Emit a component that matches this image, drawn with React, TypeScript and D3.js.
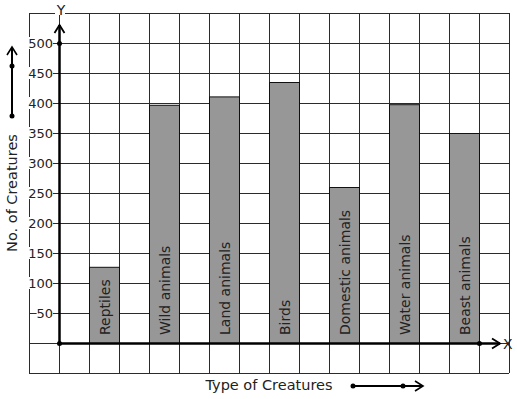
import { scaleBand, scaleLinear, range } from "d3"

const categories = ["Reptiles", "Wild animals", "Land animals", "Birds", "Domestic animals", "Water animals", "Beast animals"]
const values = [127, 397, 411, 435, 260, 398, 350]
const yTicks = [50, 100, 150, 200, 250, 300, 350, 400, 450, 500]

const W = 517
const H = 399
const FONT = "DejaVu Sans, Verdana, sans-serif"

export default function App() {
  const cell = 30
  const left = 29
  const cols = 16
  // y from -50 to 550, one cell per 50
  const y = scaleLinear().domain([-50, 550]).range([373, 13])
  const gx = scaleLinear().domain([0, cols]).range([left, left + cols * cell])
  const axisX = gx(1)
  const x = scaleBand()
    .domain(categories)
    .range([axisX, gx(cols)])
    .paddingInner(0.5)
    .paddingOuter(0.5)
  const hLines = range(-50, 551, 50)
  const vLines = range(0, cols + 1)
  const y0 = y(0)
  const xEnd = gx(cols) - 9

  const chevron = (tx, ty, dir) => {
    // open arrow head, dir: 'up' | 'right'
    if (dir === "up") return `M${tx - 5},${ty + 8} L${tx},${ty} L${tx + 5},${ty + 8}`
    return `M${tx - 8},${ty - 5} L${tx},${ty} L${tx - 8},${ty + 5}`
  }

  return (
    <div style={{ position: "absolute", left: 0, top: 0 }}>
      <svg width={W} height={H} style={{ display: "block", background: "#fff" }}>
        <rect x={0} y={0} width={W} height={H} fill="#fff" />
        {/* grid */}
        <g stroke="#2b2b2b" strokeWidth={1}>
          {hLines.map((v) => (
            <line key={"h" + v} x1={gx(0)} x2={gx(cols)} y1={y(v) + 0.5} y2={y(v) + 0.5} />
          ))}
          {vLines.map((i) => (
            <line key={"v" + i} x1={gx(i) + 0.5} x2={gx(i) + 0.5} y1={y(550)} y2={y(-50)} />
          ))}
        </g>

        {/* bars */}
        {categories.map((c, i) => (
          <g key={c}>
            <rect
              x={x(c) + 0.5}
              y={y(values[i]) + 0.5}
              width={x.bandwidth()}
              height={y0 - y(values[i])}
              fill="#979797"
              stroke="#111"
              strokeWidth={1}
            />
            <text
              transform={`translate(${x(c) + x.bandwidth() / 2 + 1}, ${y0 - 8}) rotate(-90)`}
              fontFamily={FONT}
              fontSize={14}
              fill="#222"
              dominantBaseline="central"
            >
              {c}
            </text>
          </g>
        ))}

        {/* y tick labels with white backing */}
        {yTicks.map((t) => {
          const w = String(t).length * 8.2
          return (
            <g key={"t" + t}>
              <rect x={axisX - 6 - w} y={y(t) - 6} width={w} height={12} fill="#fff" />
              <text
                x={axisX - 6}
                y={y(t) + 0.5}
                textAnchor="end"
                dominantBaseline="central"
                fontFamily={FONT}
                fontSize={13}
                fill="#222"
              >
                {t}
              </text>
            </g>
          )
        })}

        {/* axes */}
        <line x1={axisX + 0.5} x2={axisX + 0.5} y1={y0} y2={25} stroke="#000" strokeWidth={2.5} />
        <line x1={axisX} x2={xEnd} y1={y0 + 0.5} y2={y0 + 0.5} stroke="#000" strokeWidth={2.5} />
        <path d={chevron(axisX + 0.5, 25, "up")} fill="none" stroke="#000" strokeWidth={1.8} />
        <path d={chevron(xEnd, y0 + 0.5, "right")} fill="none" stroke="#000" strokeWidth={1.8} />
        <circle cx={axisX + 0.5} cy={y(500) + 0.5} r={2.5} fill="#000" />
        <circle cx={axisX + 0.5} cy={y0 + 0.5} r={2.5} fill="#000" />
        <circle cx={gx(cols - 1) + 0.5} cy={y0 + 0.5} r={2.5} fill="#000" />

        <rect x={axisX - 4} y={3} width={10} height={12} fill="#fff" />
        <text x={axisX + 2} y={10} textAnchor="middle" dominantBaseline="central" fontFamily={FONT} fontSize={14} fill="#222">
          Y
        </text>
        <text x={xEnd + 3} y={y0 + 0.5} dominantBaseline="central" fontFamily={FONT} fontSize={14} fill="#222">
          X
        </text>

        {/* axis titles */}
        <text
          transform={`translate(12, ${193}) rotate(-90)`}
          textAnchor="middle"
          dominantBaseline="central"
          fontFamily={FONT}
          fontSize={14.5}
          fill="#222"
        >
          No. of Creatures
        </text>
        <text x={269} y={385} textAnchor="middle" dominantBaseline="central" fontFamily={FONT} fontSize={14.5} fill="#222">
          Type of Creatures
        </text>

        {/* side arrows */}
        <line x1={12} x2={12} y1={116} y2={47} stroke="#000" strokeWidth={2} />
        <path d={chevron(12, 47, "up")} fill="none" stroke="#000" strokeWidth={1.6} />
        <circle cx={12} cy={66} r={2.5} fill="#000" />
        <circle cx={12} cy={116} r={2.5} fill="#000" />

        <line x1={353} x2={423} y1={386} y2={386} stroke="#000" strokeWidth={2} />
        <path d={chevron(423, 386, "right")} fill="none" stroke="#000" strokeWidth={1.6} />
        <circle cx={353} cy={386} r={2.5} fill="#000" />
        <circle cx={403} cy={386} r={2.5} fill="#000" />
      </svg>
    </div>
  )
}
